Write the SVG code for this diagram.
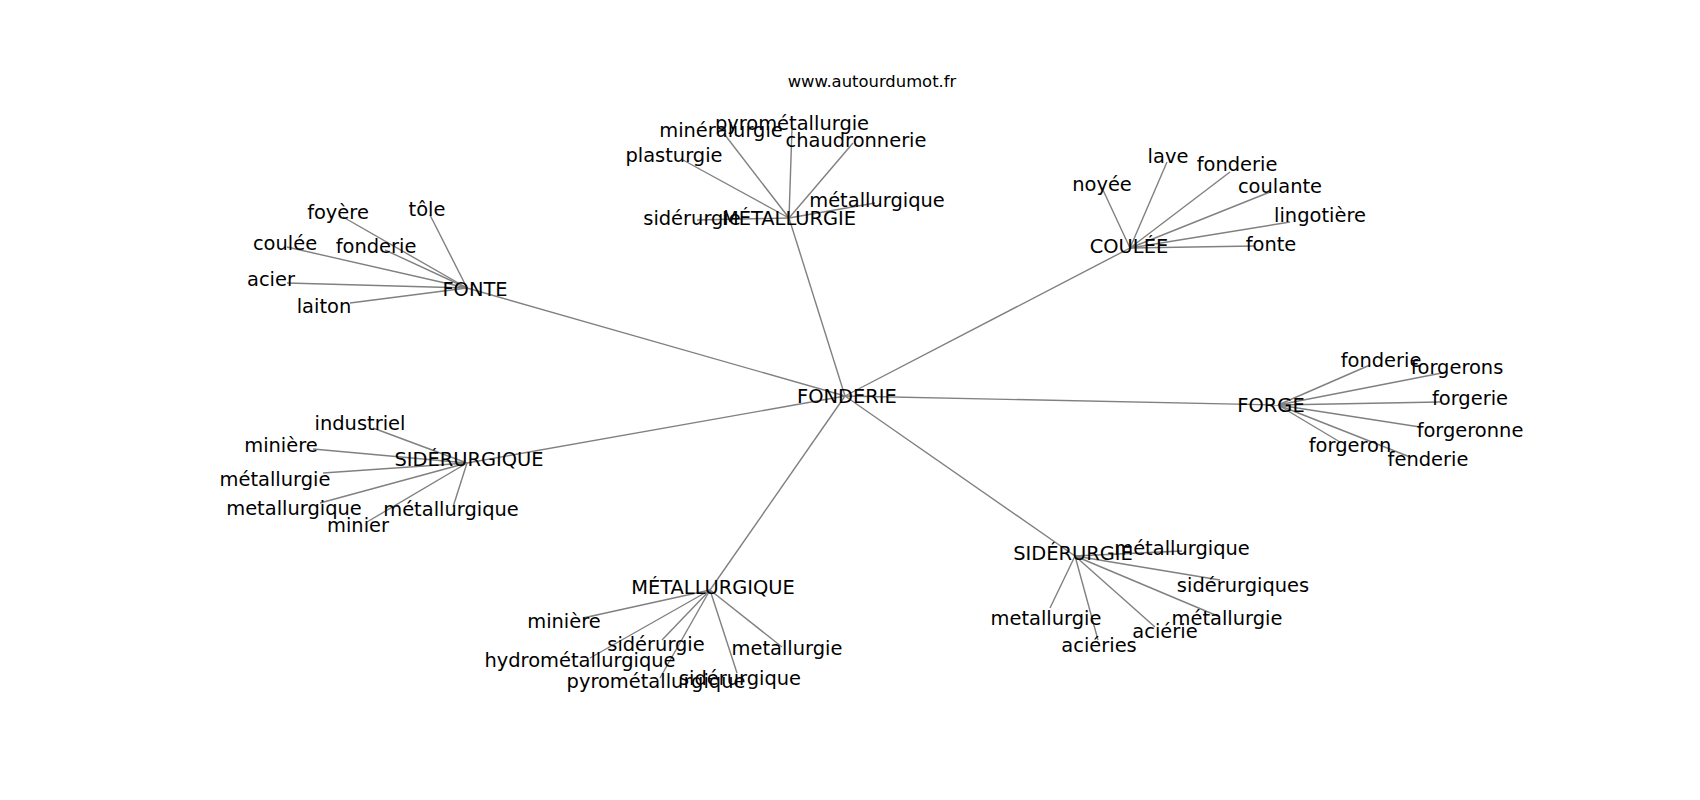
<svg xmlns="http://www.w3.org/2000/svg" width="1700" height="800" viewBox="0 0 1700 800">
<style>
text{font-family:"DejaVu Sans","Liberation Sans",sans-serif;font-size:19.44px;fill:#000;text-anchor:middle}
.wm{font-size:16.4px}
.e line{stroke:#808080;stroke-width:1.4}
</style>
<rect width="1700" height="800" fill="#fff"/>
<g class="e" id="connectors">
<line x1="845" y1="396" x2="789" y2="218"/>
<line x1="845" y1="396" x2="467" y2="288"/>
<line x1="845" y1="396" x2="1130" y2="248"/>
<line x1="845" y1="396" x2="1278" y2="405"/>
<line x1="845" y1="396" x2="467" y2="463"/>
<line x1="845" y1="396" x2="710" y2="590"/>
<line x1="845" y1="396" x2="1075" y2="556"/>
<line x1="789" y1="218" x2="725" y2="135"/>
<line x1="789" y1="218" x2="792" y2="128"/>
<line x1="789" y1="218" x2="853" y2="143"/>
<line x1="789" y1="218" x2="683" y2="160"/>
<line x1="789" y1="218" x2="875" y2="203"/>
<line x1="789" y1="218" x2="697" y2="220"/>
<line x1="467" y1="288" x2="343" y2="217"/>
<line x1="467" y1="288" x2="430" y2="215"/>
<line x1="467" y1="288" x2="287" y2="247"/>
<line x1="467" y1="288" x2="385" y2="250"/>
<line x1="467" y1="288" x2="287" y2="283"/>
<line x1="467" y1="288" x2="350" y2="303"/>
<line x1="1130" y1="248" x2="1103" y2="190"/>
<line x1="1130" y1="248" x2="1167" y2="162"/>
<line x1="1130" y1="248" x2="1230" y2="172"/>
<line x1="1130" y1="248" x2="1270" y2="192"/>
<line x1="1130" y1="248" x2="1290" y2="222"/>
<line x1="1130" y1="248" x2="1255" y2="246"/>
<line x1="1278" y1="405" x2="1370" y2="365"/>
<line x1="1278" y1="405" x2="1447" y2="372"/>
<line x1="1278" y1="405" x2="1440" y2="402"/>
<line x1="1278" y1="405" x2="1420" y2="427"/>
<line x1="1278" y1="405" x2="1340" y2="442"/>
<line x1="1278" y1="405" x2="1410" y2="457"/>
<line x1="467" y1="463" x2="373" y2="428"/>
<line x1="467" y1="463" x2="313" y2="449"/>
<line x1="467" y1="463" x2="323" y2="473"/>
<line x1="467" y1="463" x2="320" y2="503"/>
<line x1="467" y1="463" x2="367" y2="522"/>
<line x1="467" y1="463" x2="453" y2="507"/>
<line x1="710" y1="590" x2="583" y2="618"/>
<line x1="710" y1="590" x2="662" y2="640"/>
<line x1="710" y1="590" x2="590" y2="658"/>
<line x1="710" y1="590" x2="660" y2="678"/>
<line x1="710" y1="590" x2="737" y2="673"/>
<line x1="710" y1="590" x2="782" y2="647"/>
<line x1="1075" y1="556" x2="1182" y2="551"/>
<line x1="1075" y1="556" x2="1220" y2="580"/>
<line x1="1075" y1="556" x2="1050" y2="608"/>
<line x1="1075" y1="556" x2="1220" y2="617"/>
<line x1="1075" y1="556" x2="1155" y2="627"/>
<line x1="1075" y1="556" x2="1098" y2="640"/>
</g>
<text class="wm" x="872" y="87">www.autourdumot.fr</text>
<g id="n-fonderie"><text x="847" y="403">FONDERIE</text></g>
<g id="n-metallurgie"><text x="789" y="225">MÉTALLURGIE</text></g>
<g id="n-metallurgie-mineralurgie"><text x="721" y="137">minéralurgie</text></g>
<g id="n-metallurgie-pyrometallurgie"><text x="792" y="130">pyrométallurgie</text></g>
<g id="n-metallurgie-chaudronnerie"><text x="856" y="147">chaudronnerie</text></g>
<g id="n-metallurgie-plasturgie"><text x="674" y="162">plasturgie</text></g>
<g id="n-metallurgie-metallurgique"><text x="877" y="207">métallurgique</text></g>
<g id="n-metallurgie-siderurgie"><text x="692" y="225">sidérurgie</text></g>
<g id="n-fonte"><text x="475" y="296">FONTE</text></g>
<g id="n-fonte-foyere"><text x="338" y="219">foyère</text></g>
<g id="n-fonte-tole"><text x="427" y="216">tôle</text></g>
<g id="n-fonte-coulee"><text x="285" y="250">coulée</text></g>
<g id="n-fonte-fonderie"><text x="376" y="253">fonderie</text></g>
<g id="n-fonte-acier"><text x="271" y="286">acier</text></g>
<g id="n-fonte-laiton"><text x="324" y="313">laiton</text></g>
<g id="n-coulee"><text x="1129" y="253">COULÉE</text></g>
<g id="n-coulee-lave"><text x="1168" y="163">lave</text></g>
<g id="n-coulee-fonderie"><text x="1237" y="171">fonderie</text></g>
<g id="n-coulee-noyee"><text x="1102" y="191">noyée</text></g>
<g id="n-coulee-coulante"><text x="1280" y="193">coulante</text></g>
<g id="n-coulee-lingotiere"><text x="1320" y="222">lingotière</text></g>
<g id="n-coulee-fonte"><text x="1271" y="251">fonte</text></g>
<g id="n-forge"><text x="1271" y="412">FORGE</text></g>
<g id="n-forge-fonderie"><text x="1381" y="367">fonderie</text></g>
<g id="n-forge-forgerons"><text x="1457" y="374">forgerons</text></g>
<g id="n-forge-forgerie"><text x="1470" y="405">forgerie</text></g>
<g id="n-forge-forgeronne"><text x="1470" y="437">forgeronne</text></g>
<g id="n-forge-forgeron"><text x="1350" y="452">forgeron</text></g>
<g id="n-forge-fenderie"><text x="1428" y="466">fenderie</text></g>
<g id="n-siderurgique"><text x="469" y="466">SIDÉRURGIQUE</text></g>
<g id="n-siderurgique-industriel"><text x="360" y="430">industriel</text></g>
<g id="n-siderurgique-miniere"><text x="281" y="452">minière</text></g>
<g id="n-siderurgique-metallurgie"><text x="275" y="486">métallurgie</text></g>
<g id="n-siderurgique-metallurgique2"><text x="294" y="515">metallurgique</text></g>
<g id="n-siderurgique-minier"><text x="358" y="532">minier</text></g>
<g id="n-siderurgique-metallurgique"><text x="451" y="516">métallurgique</text></g>
<g id="n-metallurgique"><text x="713" y="594">MÉTALLURGIQUE</text></g>
<g id="n-metallurgique-miniere"><text x="564" y="628">minière</text></g>
<g id="n-metallurgique-siderurgie"><text x="656" y="651">sidérurgie</text></g>
<g id="n-metallurgique-metallurgie"><text x="787" y="655">metallurgie</text></g>
<g id="n-metallurgique-hydrometallurgique"><text x="580" y="667">hydrométallurgique</text></g>
<g id="n-metallurgique-pyrometallurgique"><text x="656" y="688">pyrométallurgique</text></g>
<g id="n-metallurgique-siderurgique"><text x="740" y="685">sidérurgique</text></g>
<g id="n-siderurgie"><text x="1073" y="560">SIDÉRURGIE</text></g>
<g id="n-siderurgie-metallurgique"><text x="1182" y="555">métallurgique</text></g>
<g id="n-siderurgie-siderurgiques"><text x="1243" y="592">sidérurgiques</text></g>
<g id="n-siderurgie-metallurgie2"><text x="1046" y="625">metallurgie</text></g>
<g id="n-siderurgie-metallurgie"><text x="1227" y="625">métallurgie</text></g>
<g id="n-siderurgie-acierie"><text x="1165" y="638">aciérie</text></g>
<g id="n-siderurgie-acieries"><text x="1099" y="652">aciéries</text></g>
</svg>
